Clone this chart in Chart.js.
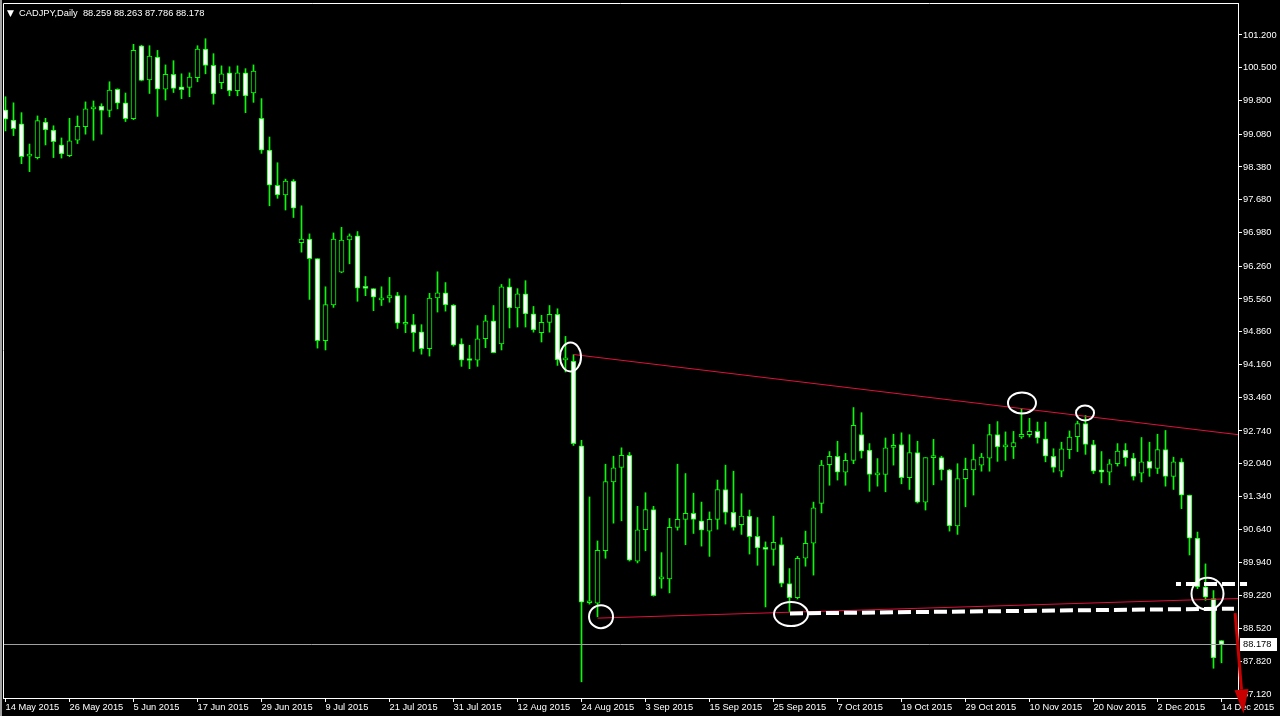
<!DOCTYPE html>
<html>
<head>
<meta charset="utf-8">
<script src="https://cdn.jsdelivr.net/npm/chart.js@4.4.1/dist/chart.umd.min.js"></script>
<style>
  html, body { margin: 0; padding: 0; background: #000; }
  #wrap { position: relative; width: 1280px; height: 716px; overflow: hidden; }
  #c { position: absolute; left: 0; top: 0; }
  #hdr-arrow { position: absolute; left: 7px; top: 8px; color: #fff; font: 9px/11px 'DejaVu Sans', sans-serif; }
  #hdr { position: absolute; left: 19px; top: 8px; color: #fff; white-space: pre; font: 9.3px/11px 'Liberation Sans', Arial, sans-serif; }
</style>
</head>
<body>
<div id="wrap">
  <canvas id="c" width="1280" height="716"></canvas>
  <span id="hdr-arrow">▼</span>
  <span id="hdr">CADJPY,Daily  88.259 88.263 87.786 88.178</span>
</div>
<script>
// ==============================================================
// DATOS: velas diarias CADJPY, 14 May 2015 -> 14 Dec 2015
// ==============================================================
const dateTicks = ['14 May 2015', '26 May 2015', '5 Jun 2015', '17 Jun 2015', '29 Jun 2015',
  '9 Jul 2015', '21 Jul 2015', '31 Jul 2015', '12 Aug 2015', '24 Aug 2015',
  '3 Sep 2015', '15 Sep 2015', '25 Sep 2015', '7 Oct 2015', '19 Oct 2015',
  '29 Oct 2015', '10 Nov 2015', '20 Nov 2015', '2 Dec 2015', '14 Dec 2015'];
const barsPerDateTick = 8;

const priceTicks = ['101.200', '100.500', '99.800', '99.080', '98.380', '97.680', '96.980',
  '96.260', '95.560', '94.860', '94.160', '93.460', '92.740', '92.040', '91.340',
  '90.640', '89.940', '89.220', '88.520', '87.820', '87.120'];

const openPrices = [
  99.60, 99.38, 99.30, 98.61, 98.58, 99.34, 99.17, 98.85, 98.62, 98.95,
  99.24, 99.62, 99.68, 99.59, 100.04, 99.75, 99.41, 100.97, 100.24, 100.73,
  100.04, 100.36, 100.09, 100.08, 100.29, 100.90, 100.55, 100.18, 100.39, 100.01,
  100.39, 99.96, 99.42, 98.74, 97.99, 97.78, 98.08, 96.76, 96.84, 96.42,
  94.67, 95.43, 96.13, 96.82, 96.91, 95.79, 95.78, 95.54, 95.58, 95.63,
  95.02, 95.01, 94.86, 94.50, 95.58, 95.69, 95.43, 94.60, 94.25, 94.25,
  94.71, 95.09, 94.60, 95.82, 95.37, 95.67, 95.24, 94.84, 95.06, 95.23,
  94.26, 94.23, 92.42, 89.07, 89.06, 90.18, 91.65, 91.96, 92.22, 89.96,
  90.63, 91.06, 89.58, 89.58, 90.68, 90.85, 90.98, 90.82, 90.60, 90.85,
  91.49, 91.00, 90.74, 90.92, 90.49, 90.25, 90.21, 90.31, 89.48, 89.18,
  90.02, 90.34, 91.19, 92.02, 92.20, 91.86, 92.11, 92.66, 92.33, 91.80,
  91.81, 92.39, 92.45, 91.74, 92.28, 91.22, 92.17, 92.17, 91.91, 90.71,
  91.72, 91.91, 92.01, 92.16, 92.66, 92.40, 92.40, 92.61, 92.66, 92.73,
  92.57, 92.20, 91.88, 92.34, 92.62, 92.90, 92.45, 91.91, 91.86, 92.04,
  92.33, 92.16, 91.84, 92.09, 91.94, 92.34, 91.77, 92.08, 91.37, 90.45,
  89.41, 89.16, 88.259
];
const highPrices = [
  99.88, 99.75, 99.54, 98.87, 99.47, 99.42, 99.26, 99.00, 99.42, 99.47,
  99.77, 99.79, 99.73, 100.20, 100.05, 99.96, 101.00, 100.98, 100.97, 100.87,
  100.56, 100.65, 100.37, 100.39, 100.97, 101.12, 100.80, 100.54, 100.52, 100.54,
  100.48, 100.56, 99.84, 99.02, 98.47, 98.12, 98.11, 97.55, 96.95, 96.42,
  95.82, 96.97, 97.09, 96.95, 97.00, 96.04, 95.78, 95.82, 96.02, 95.70,
  95.63, 95.23, 95.01, 95.68, 96.14, 95.91, 95.44, 94.71, 94.57, 94.99,
  95.21, 95.42, 95.87, 95.99, 95.78, 95.95, 95.40, 95.21, 95.42, 95.35,
  94.76, 94.37, 92.54, 91.33, 90.39, 92.03, 92.20, 92.38, 92.28, 91.13,
  91.42, 91.13, 90.14, 90.87, 92.03, 91.83, 91.41, 91.22, 91.01, 91.69,
  92.01, 91.88, 91.40, 91.05, 90.89, 90.37, 90.92, 90.46, 89.80, 90.06,
  90.60, 91.22, 92.11, 92.30, 92.52, 92.26, 93.24, 93.13, 92.47, 92.15,
  92.59, 92.67, 92.70, 92.66, 92.52, 92.17, 92.56, 92.20, 91.92, 92.04,
  92.16, 92.45, 92.26, 92.88, 92.94, 92.72, 92.73, 93.22, 93.01, 92.93,
  92.93, 92.36, 92.50, 92.74, 92.95, 93.07, 92.54, 92.30, 92.13, 92.47,
  92.47, 92.26, 92.60, 92.50, 92.67, 92.75, 92.18, 92.15, 91.37, 90.58,
  89.90, 89.33, 88.263
];
const lowPrices = [
  99.15, 99.05, 98.45, 98.28, 98.55, 98.85, 98.58, 98.57, 98.60, 98.88,
  99.08, 98.95, 99.08, 99.45, 99.62, 99.35, 99.39, 100.22, 99.95, 99.46,
  99.81, 99.97, 99.84, 99.88, 100.20, 100.37, 99.72, 100.05, 99.90, 99.90,
  99.54, 99.76, 98.67, 97.55, 97.71, 97.46, 97.30, 96.56, 95.55, 94.51,
  94.47, 95.38, 96.12, 96.31, 95.51, 95.63, 95.31, 95.42, 95.49, 94.93,
  94.84, 94.44, 94.38, 94.34, 95.28, 95.30, 94.55, 94.12, 94.07, 94.12,
  94.52, 94.41, 94.47, 94.94, 94.96, 94.96, 94.85, 94.64, 94.85, 94.14,
  94.00, 92.43, 87.38, 89.04, 88.77, 90.02, 90.77, 90.82, 89.96, 89.92,
  90.18, 89.21, 89.38, 89.28, 90.62, 90.31, 90.55, 90.28, 90.06, 90.64,
  90.75, 90.62, 90.53, 90.11, 89.87, 88.98, 89.87, 89.41, 88.88, 89.15,
  89.85, 89.66, 90.99, 91.58, 91.69, 91.58, 92.04, 92.16, 91.45, 91.56,
  91.44, 92.01, 91.61, 91.49, 91.20, 91.05, 91.59, 91.69, 90.60, 90.53,
  91.12, 91.37, 91.88, 91.88, 92.09, 92.11, 92.15, 92.58, 92.61, 92.48,
  92.08, 91.86, 91.76, 92.15, 92.30, 92.24, 91.83, 91.63, 91.59, 91.99,
  91.99, 91.69, 91.65, 91.77, 91.83, 91.56, 91.49, 91.08, 90.09, 89.37,
  89.12, 87.67, 87.786
];
const closePrices = [
  99.40, 99.20, 98.60, 98.63, 99.37, 99.17, 98.92, 98.66, 98.94, 99.25,
  99.62, 99.64, 99.59, 100.02, 99.74, 99.41, 100.87, 100.23, 100.75, 100.04,
  100.36, 100.06, 100.03, 100.30, 100.90, 100.55, 99.94, 100.37, 100.01, 100.39,
  99.90, 100.43, 98.74, 97.99, 97.78, 98.08, 97.50, 96.84, 96.42, 94.67,
  95.44, 96.84, 96.82, 96.91, 95.79, 95.785, 95.60, 95.58, 95.63, 95.04,
  95.04, 94.84, 94.50, 95.58, 95.69, 95.43, 94.57, 94.25, 94.245, 94.71,
  95.09, 94.41, 95.82, 95.37, 95.67, 95.24, 94.90, 95.06, 95.23, 94.26,
  94.27, 92.47, 89.08, 89.075, 90.19, 91.66, 91.95, 92.22, 89.98, 90.63,
  91.06, 89.22, 89.59, 90.68, 90.85, 90.98, 90.85, 90.62, 90.85, 91.49,
  91.00, 90.68, 90.92, 90.48, 90.24, 90.21, 90.36, 89.48, 89.18, 90.02,
  90.34, 91.10, 92.01, 92.20, 91.86, 92.11, 92.86, 92.31, 91.81, 91.82,
  92.38, 92.41, 91.74, 92.28, 91.22, 92.17, 92.19, 91.91, 90.71, 91.72,
  91.92, 92.13, 92.18, 92.66, 92.40, 92.41, 92.49, 92.67, 92.73, 92.59,
  92.20, 91.96, 92.36, 92.61, 92.90, 92.45, 91.88, 91.86, 92.04, 92.31,
  92.17, 91.77, 92.08, 91.94, 92.34, 91.77, 92.08, 91.37, 90.45, 89.41,
  89.19, 87.89, 88.178
];
const lastPrice = 88.178;

// Dibujos del analista (indice de barra, precio)
const redLines = [
  [{ x: 71, y: 94.373 }, { x: 154.1, y: 92.66 }],
  [{ x: 74, y: 88.741 }, { x: 154.1, y: 89.16 }]
];
const dashLong = [{ x: 98.06, y: 88.842 }, { x: 153.56, y: 88.944 }];
const dashShort = [{ x: 146.31, y: 89.47 }, { x: 155.19, y: 89.47 }];
const circles = [
  { x: 70.63, y: 94.32, rx: 10.5, ry: 14.5 },
  { x: 74.44, y: 88.773, rx: 12, ry: 11.5 },
  { x: 98.19, y: 88.827, rx: 17, ry: 12 },
  { x: 127.06, y: 93.339, rx: 14, ry: 10.5 },
  { x: 134.94, y: 93.125, rx: 9, ry: 7.5 },
  { x: 150.25, y: 89.264, rx: 16, ry: 16 }
];
const arrowFrom = { x: 153.7, y: 88.85 };
const arrowTo = { x: 154.75, y: 86.704 };

// ==============================================================
// ESCALAS (para que 1 barra = 8 px como en MT4)
// ==============================================================
const xMin = -0.3125, xMax = 154.0625;
const yMin = 87.0347, yMax = 101.8827;

const GREEN = '#00ff00';
const axisFont = { family: "'Liberation Sans', Arial, sans-serif", size: 9.3 };

const bodies = openPrices.map((o, i) => ({ x: i, y: [o, closePrices[i]] }));
const wicks = lowPrices.map((l, i) => ({ x: i, y: [l, highPrices[i]] }));
const bodyFill = openPrices.map((o, i) => closePrices[i] < o ? '#ffffff' : '#000000');

// plugin: circulos, flecha, linea de precio y marco
const drawings = {
  id: 'drawings',
  afterDatasetsDraw(chart) {
    const { ctx, scales: { x, y }, chartArea: a } = chart;
    ctx.save();
    // linea del precio actual
    const py = Math.round(y.getPixelForValue(lastPrice)) + 0.5;
    ctx.strokeStyle = '#a0a0a0';
    ctx.lineWidth = 1;
    ctx.beginPath();
    ctx.moveTo(a.left, py);
    ctx.lineTo(a.right, py);
    ctx.stroke();
    // circulos blancos
    ctx.strokeStyle = '#ffffff';
    ctx.lineWidth = 2;
    circles.forEach(c => {
      ctx.beginPath();
      ctx.ellipse(x.getPixelForValue(c.x), y.getPixelForValue(c.y), c.rx, c.ry, 0, 0, Math.PI * 2);
      ctx.stroke();
    });
    ctx.restore();
  },
  afterDraw(chart) {
    const { ctx, scales: { x, y }, chartArea: a } = chart;
    ctx.save();
    // marco
    ctx.fillStyle = '#a0a0a0';
    ctx.fillRect(0, 0, 2, chart.height);
    ctx.strokeStyle = '#ffffff';
    ctx.lineWidth = 1;
    ctx.beginPath();
    ctx.moveTo(a.left + 0.5, a.bottom);
    ctx.lineTo(a.left + 0.5, a.top + 0.5);
    ctx.lineTo(a.right, a.top + 0.5);
    ctx.stroke();
    // etiqueta del precio actual
    const py = y.getPixelForValue(lastPrice);
    ctx.fillStyle = '#ffffff';
    ctx.fillRect(a.right + 2, Math.round(py) - 6, 37, 13);
    ctx.fillStyle = '#000000';
    ctx.font = "9.3px 'Liberation Sans', Arial, sans-serif";
    ctx.textBaseline = 'middle';
    ctx.fillText(lastPrice.toFixed(3), a.right + 5, Math.round(py) + 0.5);
    // flecha roja
    const x0 = x.getPixelForValue(arrowFrom.x), y0 = y.getPixelForValue(arrowFrom.y);
    const x1 = x.getPixelForValue(arrowTo.x), y1 = y.getPixelForValue(arrowTo.y);
    const ang = Math.atan2(y1 - y0, x1 - x0);
    const head = 24, half = 7;
    const bx = x1 - head * Math.cos(ang), by = y1 - head * Math.sin(ang);
    ctx.strokeStyle = '#c80000';
    ctx.fillStyle = '#c80000';
    ctx.lineWidth = 3;
    ctx.beginPath();
    ctx.moveTo(x0, y0);
    ctx.lineTo(bx, by);
    ctx.stroke();
    ctx.beginPath();
    ctx.moveTo(x1, y1);
    ctx.lineTo(bx + half * Math.sin(ang), by - half * Math.cos(ang));
    ctx.lineTo(bx - half * Math.sin(ang), by + half * Math.cos(ang));
    ctx.closePath();
    ctx.fill();
    ctx.restore();
  }
};

const lineDefaults = { type: 'line', pointRadius: 0, borderJoinStyle: 'miter', tension: 0 };

new Chart(document.getElementById('c'), {
  type: 'bar',
  data: {
    datasets: [
      {
        ...lineDefaults, label: 'dashShort', data: dashShort, borderColor: '#ffffff',
        borderWidth: 4, borderDash: [13, 5], borderDashOffset: 8, clip: false, order: 0
      },
      {
        ...lineDefaults, label: 'dashLong', data: dashLong, borderColor: '#ffffff',
        borderWidth: 4, borderDash: [13, 5], clip: false, order: 0
      },
      { ...lineDefaults, label: 'res', data: redLines[0], borderColor: '#e0103c', borderWidth: 1, order: 1 },
      { ...lineDefaults, label: 'sup', data: redLines[1], borderColor: '#e0103c', borderWidth: 1, order: 1 },
      {
        label: 'body', data: bodies, backgroundColor: bodyFill, borderColor: GREEN,
        borderWidth: 1, borderSkipped: false, barThickness: 5, minBarLength: 2,
        grouped: false, order: 2
      },
      {
        label: 'wick', data: wicks, backgroundColor: GREEN, borderWidth: 0,
        barThickness: 1, grouped: false, order: 3
      }
    ]
  },
  options: {
    responsive: false,
    devicePixelRatio: 1,
    animation: false,
    events: [],
    layout: { padding: { left: 3, top: 3, right: 0, bottom: 0 } },
    plugins: { legend: { display: false }, tooltip: { enabled: false } },
    scales: {
      x: {
        type: 'linear', min: xMin, max: xMax, offset: false,
        afterBuildTicks: s => { s.ticks = dateTicks.map((_, k) => ({ value: k * barsPerDateTick })); },
        afterFit: s => { s.height = 18; s.paddingLeft = 0; s.paddingRight = 0; },
        ticks: {
          autoSkip: false, maxRotation: 0, minRotation: 0, align: 'start', padding: 0,
          color: '#ffffff', font: axisFont, callback: (v, k) => dateTicks[k]
        },
        grid: { display: true, offset: false, drawOnChartArea: false, drawTicks: true, tickLength: 4, tickColor: '#ffffff' },
        border: { display: true, color: '#ffffff', width: 1 }
      },
      y: {
        type: 'linear', position: 'right', min: yMin, max: yMax,
        afterBuildTicks: s => { s.ticks = priceTicks.map(t => ({ value: parseFloat(t) })); },
        afterFit: s => { s.width = 42; s.paddingTop = 0; s.paddingBottom = 0; },
        ticks: {
          autoSkip: false, padding: 1, color: '#ffffff', font: axisFont,
          callback: (v, k) => priceTicks[k]
        },
        grid: { display: true, drawOnChartArea: false, drawTicks: true, tickLength: 4, tickColor: '#ffffff' },
        border: { display: true, color: '#ffffff', width: 1 }
      }
    }
  },
  plugins: [drawings]
});
</script>
</body>
</html>
